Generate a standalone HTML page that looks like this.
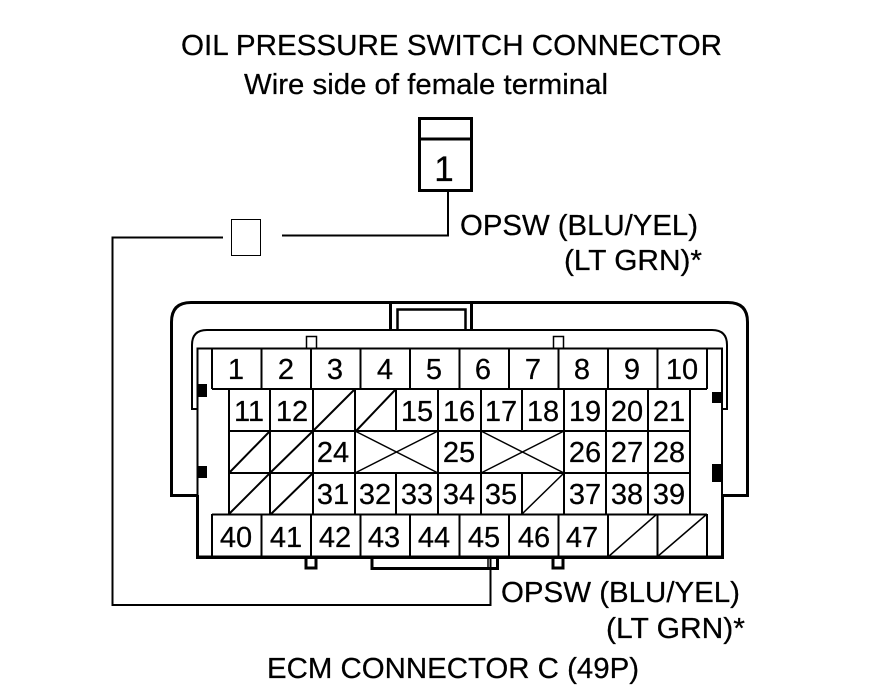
<!DOCTYPE html>
<html>
<head>
<meta charset="utf-8">
<style>
html,body{margin:0;padding:0;background:#fff;width:880px;height:696px;overflow:hidden}
svg{display:block}
text{font-family:"Liberation Sans",Arial,sans-serif;fill:#000;stroke:#000;stroke-width:.25px;font-size:29px}
.n text{text-anchor:middle}
</style>
</head>
<body>
<svg width="880" height="696" viewBox="0 0 880 696" xmlns="http://www.w3.org/2000/svg">
<rect width="880" height="696" fill="#fff"/>

<text x="181" y="55" textLength="541" lengthAdjust="spacingAndGlyphs">OIL PRESSURE SWITCH CONNECTOR</text>
<text x="244" y="94" textLength="364" lengthAdjust="spacingAndGlyphs">Wire side of female terminal</text>
<text x="460" y="235" textLength="238" lengthAdjust="spacingAndGlyphs">OPSW (BLU/YEL)</text>
<text x="564" y="270" textLength="138" lengthAdjust="spacingAndGlyphs">(LT GRN)*</text>
<text x="501" y="602" textLength="239" lengthAdjust="spacingAndGlyphs">OPSW (BLU/YEL)</text>
<text x="606" y="638" textLength="139" lengthAdjust="spacingAndGlyphs">(LT GRN)*</text>
<text x="267" y="678" textLength="372" lengthAdjust="spacingAndGlyphs">ECM CONNECTOR C (49P)</text>

<!-- top connector -->
<g fill="none" stroke="#000">
<rect x="419.5" y="118.5" width="52" height="72" stroke-width="3"/>
<path d="M419 139H472" stroke-width="3"/>
<path d="M448 189V235.500H282" stroke-width="2"/>
<rect x="231.500" y="219.500" width="29" height="36" stroke-width="1"/>
<path d="M223 237.500H112.500V605H490.500V558" stroke-width="2"/>
</g>
<text x="444" y="181" text-anchor="middle" style="font-size:35px">1</text>

<!-- ECM shell -->
<g fill="none" stroke="#000">
<path d="M197 495.500H171.500V322Q171.500 302.500 191 302.500H728Q747.500 302.500 747.500 322V495.500H722" stroke-width="3"/>
<path d="M197 409H192V345Q192 330 207 330H712Q727 330 727 345V409H722" stroke-width="2"/>
<path d="M390.500 302V330M471.500 302V330" stroke-width="3"/>
<path d="M397.500 330V309.500H465.500V330" stroke-width="2.500"/>
<rect x="306.500" y="336.500" width="10" height="12" stroke-width="1.500" fill="#fff"/>
<rect x="553.500" y="336.500" width="10" height="12" stroke-width="1.500" fill="#fff"/>
<rect x="306" y="557" width="10" height="11" stroke-width="3" fill="#fff"/>
<rect x="553" y="557" width="10" height="11" stroke-width="3" fill="#fff"/>
<path d="M372 557V568.500H497.500V557" stroke-width="3"/>
<path d="M488 557V568" stroke-width="1.500"/>
<!-- body -->
<rect x="197.500" y="348.500" width="524.500" height="208" fill="#fff" stroke-width="2"/>
<path d="M197.500 495V557.500H722.500V495" stroke-width="3"/>
<path d="M722 348V557" stroke-width="2"/>
<path d="M490.500 557V605" stroke-width="2"/>
</g>

<g fill="#000">
<rect x="197" y="384" width="10" height="13"/>
<rect x="197" y="466" width="10" height="12"/>
<rect x="712" y="392" width="10" height="11"/>
<rect x="712" y="464" width="10" height="18"/>
</g>

<!-- grid -->
<g fill="none" stroke="#000" stroke-width="2">
<path d="M212 348.500V389M261.500 348.500V389M311 348.500V389M360.500 348.500V389M410 348.500V389M459.500 348.500V389M509 348.500V389M558.500 348.500V389M608 348.500V389M657.500 348.500V389M707 348.500V389"/>
<path d="M212 389H707"/>
<path d="M229 389V514M270 389V514M313 389V514M355 389V514M396 389V431M396 473V514M438 389V514M481 389V514M522 389V431M522 473V514M564 389V514M606 389V514M648 389V514M690 389V514"/>
<path d="M229 431H690M229 473H690"/>
<path d="M212 514.500H707"/>
<path d="M212 514V557M261.500 514V557M311 514V557M360.500 514V557M410 514V557M459.500 514V557M509 514V557M558.500 514V557M608 514V557M657.500 514V557M707 514V557"/>
<path d="M313 431L355 389M356 431L396 389M229 473L270 431M270 473L313 431M229 514L270 473M271 514L313 473"/>
<path d="M355 431L438 473M355 473L438 431M481 431L564 473M481 473L564 431" stroke-width="1.500"/>
<path d="M522 514L564 473M608 557L657 514M657 557L707 514" stroke-width="1.500"/>
</g>

<!-- numbers -->
<g class="n">
<text x="236" y="379">1</text><text x="286" y="379">2</text><text x="335" y="379">3</text><text x="385" y="379">4</text><text x="434" y="379">5</text><text x="483" y="379">6</text><text x="533" y="379">7</text><text x="582" y="379">8</text><text x="632" y="379">9</text><text x="682" y="379">10</text>
<text x="249" y="421">11</text><text x="292" y="421">12</text><text x="417" y="421">15</text><text x="459" y="421">16</text><text x="501" y="421">17</text><text x="543" y="421">18</text><text x="585" y="421">19</text><text x="627" y="421">20</text><text x="669" y="421">21</text>
<text x="333" y="462">24</text><text x="459" y="462">25</text><text x="585" y="462">26</text><text x="627" y="462">27</text><text x="669" y="462">28</text>
<text x="333" y="504">31</text><text x="375" y="504">32</text><text x="417" y="504">33</text><text x="459" y="504">34</text><text x="501" y="504">35</text><text x="585" y="504">37</text><text x="627" y="504">38</text><text x="669" y="504">39</text>
<text x="236" y="547">40</text><text x="286" y="547">41</text><text x="335" y="547">42</text><text x="384" y="547">43</text><text x="434" y="547">44</text><text x="484" y="547">45</text><text x="534" y="547">46</text><text x="582" y="547">47</text>
</g>
</svg>
</body>
</html>
